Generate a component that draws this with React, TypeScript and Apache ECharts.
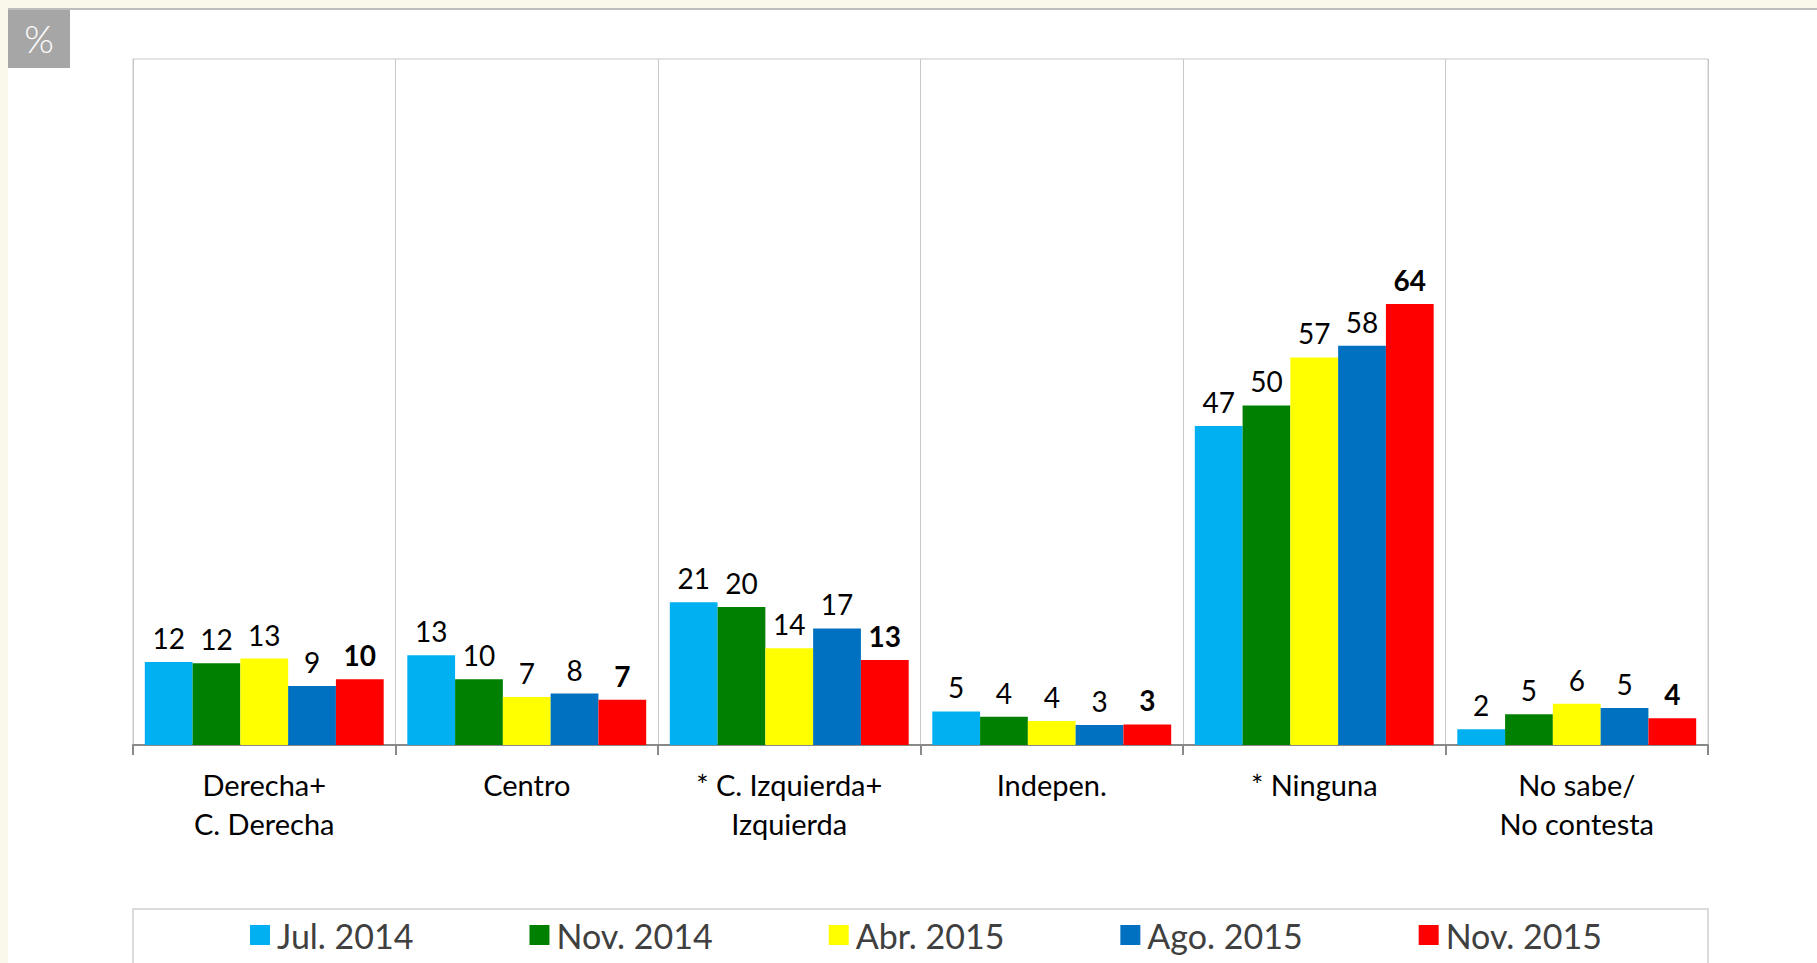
import React, { useEffect, useRef } from "react";
import * as echarts from "echarts";

const categories = [
  "Derecha+\nC. Derecha",
  "Centro",
  "* C. Izquierda+\nIzquierda",
  "Indepen.",
  "* Ninguna",
  "No sabe/\nNo contesta",
];

const seriesNames = ["Jul. 2014", "Nov. 2014", "Abr. 2015", "Ago. 2015", "Nov. 2015"];
const seriesColors = ["#00B0F0", "#008000", "#FFFF00", "#0070C0", "#FF0000"];

// bar heights
const jul2014 = [12.1, 13.1, 20.8, 4.9, 46.5, 2.3];
const nov2014 = [11.9, 9.6, 20.1, 4.1, 49.5, 4.5];
const abr2015 = [12.6, 7.0, 14.1, 3.5, 56.5, 6.0];
const ago2015 = [8.6, 7.5, 17.0, 2.9, 58.2, 5.4];
const nov2015 = [9.6, 6.6, 12.4, 3.0, 64.3, 3.9];

// printed labels
const jul2014Labels = [12, 13, 21, 5, 47, 2];
const nov2014Labels = [12, 10, 20, 4, 50, 5];
const abr2015Labels = [13, 7, 14, 4, 57, 6];
const ago2015Labels = [9, 8, 17, 3, 58, 5];
const nov2015Labels = [10, 7, 13, 3, 64, 4];

const yMin = 0;
const yMax = 100;

const FONT = "Lato";

export default function App() {
  const ref = useRef<HTMLDivElement>(null);

  useEffect(() => {
    if (!ref.current) return;
    const chart = echarts.init(ref.current, null, { renderer: "svg" });
    const values = [jul2014, nov2014, abr2015, ago2015, nov2015];
    const labels = [jul2014Labels, nov2014Labels, abr2015Labels, ago2015Labels, nov2015Labels];

    const series = values.map((vals, i) => ({
      name: seriesNames[i],
      type: "bar",
      data: vals,
      barGap: "0%",
      barCategoryGap: "9%",
      itemStyle: { color: seriesColors[i] },
      label: {
        show: true,
        position: "top",
        distance: 10,
        fontFamily: FONT,
        fontSize: 28,
        color: "#000",
        fontWeight: i === 4 ? "bold" : "normal",
        formatter: (p: any) => String(labels[i][p.dataIndex]),
      },
    }));

    chart.setOption({
      animation: false,
      backgroundColor: "#FAF8EA",
      graphic: [
        {
          type: "rect",
          shape: { x: 8, y: 10, width: 1817, height: 963 },
          style: { fill: "#ffffff" },
          z: -10,
        },
        {
          type: "line",
          shape: { x1: 8, y1: 9, x2: 1817, y2: 9 },
          style: { stroke: "#BDBDBD", lineWidth: 2 },
          z: -9,
        },
        {
          type: "rect",
          shape: { x: 8, y: 10, width: 62, height: 58 },
          style: { fill: "#A6A6A6" },
        },
        {
          type: "text",
          x: 39,
          y: 38,
          style: {
            text: "%",
            fill: "#ffffff",
            fontFamily: FONT,
            fontSize: 38,
            fontWeight: 300,
            align: "center",
            verticalAlign: "middle",
          },
        },
        {
          type: "rect",
          shape: { x: 133, y: 909, width: 1575, height: 120 },
          style: { fill: "none", stroke: "#D0D0D0", lineWidth: 1.5 },
        },
      ],
      legend: {
        data: seriesNames,
        left: 250,
        top: 918,
        padding: 0,
        itemGap: 116,
        itemWidth: 20,
        itemHeight: 20,
        icon: "rect",
        textStyle: { fontFamily: FONT, fontSize: 34, color: "#404040", padding: [0, 0, 0, 2] },
      },
      grid: {
        left: 133,
        right: 109,
        top: 59,
        bottom: 218,
        show: true,
        borderColor: "#C8C8C8",
        borderWidth: 1,
        containLabel: false,
      },
      xAxis: {
        type: "category",
        data: categories,
        boundaryGap: true,
        axisLine: { show: true, lineStyle: { color: "#898989", width: 2 } },
        axisTick: { show: true, length: 10, lineStyle: { color: "#898989", width: 2 } },
        splitLine: { show: true, lineStyle: { color: "#C8C8C8", width: 1 } },
        axisLabel: {
          fontFamily: FONT,
          fontSize: 29,
          color: "#000",
          lineHeight: 39,
          margin: 20,
          interval: 0,
        },
      },
      yAxis: {
        type: "value",
        min: yMin,
        max: yMax,
        show: false,
        splitLine: { show: false },
      },
      series,
    });
    return () => chart.dispose();
  }, []);

  return (
    <div
      ref={ref}
      style={{ position: "fixed", left: 0, top: 0, width: 1817, height: 963 }}
    />
  );
}
